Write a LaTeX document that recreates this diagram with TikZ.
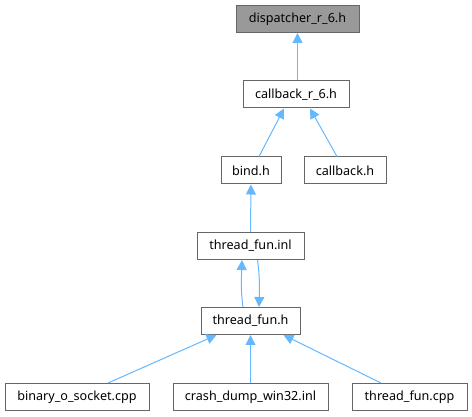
\documentclass[tikz,border=0pt]{standalone}
\usepackage{fontspec}
\setmainfont{Noto Sans}
\usetikzlibrary{arrows.meta}
\definecolor{edgeblue}{HTML}{63B8FF}
\definecolor{boxgrey}{HTML}{666666}
\definecolor{fillgrey}{HTML}{999999}
\tikzset{
  filebox/.style={draw=boxgrey, line width=1pt, fill=white, inner sep=0pt, minimum height=27pt, font=\fontsize{12.6pt}{14pt}\selectfont, text=black},
  curbox/.style={filebox, fill=fillgrey},
  edge/.style={draw=edgeblue, line width=1pt, -{Triangle[length=10pt,width=10pt]}},
}
\begin{document}
\begin{tikzpicture}[x=1pt,y=-1pt]
\useasboundingbox (0,0) rectangle (472,417);
\node[curbox, minimum width=123pt] (disp) at (297.5,19) {dispatcher\_r\_6.h};
\node[filebox, minimum width=106pt] (cbr) at (296,94.5) {callback\_r\_6.h};
\node[filebox, minimum width=60pt] (bind) at (251,170.5) {bind.h};
\node[filebox, minimum width=82pt] (cbh) at (345,170.5) {callback.h};
\node[filebox, minimum width=107pt] (inl) at (250.5,246) {thread\_fun.inl};
\node[filebox, minimum width=99pt] (tfh) at (250.5,321) {thread\_fun.h};
\node[filebox, minimum width=144pt] (bin) at (77,397) {binary\_o\_socket.cpp};
\node[filebox, minimum width=155pt] (crash) at (250.5,397) {crash\_dump\_win32.inl};
\node[filebox, minimum width=115pt] (tfcpp) at (409.5,397) {thread\_fun.cpp};

\draw[edge] (cbr.north -| disp.north) -- (disp.south);
\draw[edge] ([xshift=8pt]bind.north) -- ([xshift=-12pt]cbr.south);
\draw[edge] ([xshift=-8pt]cbh.north) -- ([xshift=14pt]cbr.south);
\draw[edge] (inl.north) -- (bind.south);
\draw[edge] ([xshift=-7.5pt]tfh.north) .. controls +(-2.5,-18) and +(-0.5,16) .. ([xshift=-8.5pt]inl.south);
\draw[edge] ([xshift=7pt]inl.south) .. controls +(2.5,18) and +(0.5,-16) .. ([xshift=8.5pt]tfh.north);
\draw[edge] ([xshift=31pt]bin.north) -- ([xshift=-34pt]tfh.south);
\draw[edge] (crash.north) -- (tfh.south);
\draw[edge] ([xshift=-28.5pt]tfcpp.north) -- ([xshift=33pt]tfh.south);
\end{tikzpicture}
\end{document}
